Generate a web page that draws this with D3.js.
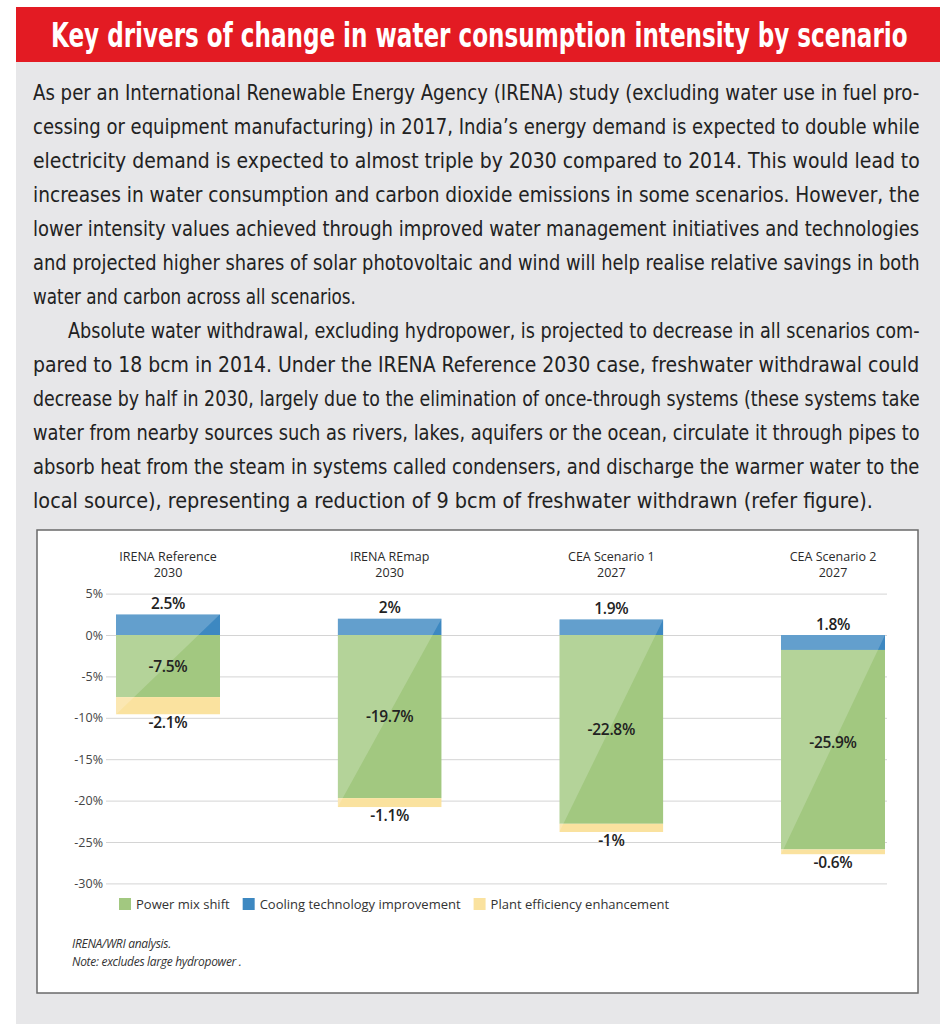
<!DOCTYPE html>
<html>
<head>
<meta charset="utf-8">
<script src="https://cdn.jsdelivr.net/npm/d3@7"></script>
<style>
  body { margin: 0; background: #fff; }
  svg { display: block; }
</style>
</head>
<body>
<svg id="page" width="949" height="1024"></svg>
<script>
// chart data
const scenarios = ["IRENA Reference", "IRENA REmap", "CEA Scenario 1", "CEA Scenario 2"];
const scenarioYears = ["2030", "2030", "2027", "2027"];
const powerMix = [-7.5, -19.7, -22.8, -25.9];
const cooling = [2.5, 2, 1.9, 1.8];
const plantEff = [-2.1, -1.1, -1, -0.6];
// in the source figure the last blue block is drawn under the axis
const coolingBelow = [false, false, false, true];
const yTicks = [5, 0, -5, -10, -15, -20, -25, -30];
const legendNames = ["Power mix shift", "Cooling technology improvement", "Plant efficiency enhancement"];
const legendColors = ["#a2c880", "#3d88c1", "#fae29f"];

const title = "Key drivers of change in water consumption intensity by scenario";
const para1 = [
  "As per an International Renewable Energy Agency (IRENA) study (excluding water use in fuel pro-",
  "cessing or equipment manufacturing) in 2017, India\u2019s energy demand is expected to double while",
  "electricity demand is expected to almost triple by 2030 compared to 2014. This would lead to",
  "increases in water consumption and carbon dioxide emissions in some scenarios. However, the",
  "lower intensity values achieved through improved water management initiatives and technologies",
  "and projected higher shares of solar photovoltaic and wind will help realise relative savings in both",
  "water and carbon across all scenarios."
];
const para2 = [
  "Absolute water withdrawal, excluding hydropower, is projected to decrease in all scenarios com-",
  "pared to 18 bcm in 2014. Under the IRENA Reference 2030 case, freshwater withdrawal could",
  "decrease by half in 2030, largely due to the elimination of once-through systems (these systems take",
  "water from nearby sources such as rivers, lakes, aquifers or the ocean, circulate it through pipes to",
  "absorb heat from the steam in systems called condensers, and discharge the warmer water to the",
  "local source), representing a reduction of 9 bcm of freshwater withdrawn (refer figure)."
];
const notes = ["IRENA/WRI analysis.", "Note: excludes large hydropower ."];

const svg = d3.select("#page");
const bodyFont = "'Liberation Sans Narrow', 'DejaVu Sans Condensed', sans-serif";
const chartFont = "'Open Sans', 'Noto Sans', sans-serif";

// squeeze a text node to a given width with a horizontal scale
function fitWidth(sel, x, y, w) {
  const n = sel.node().getComputedTextLength();
  sel.attr("transform", `translate(${x},${y}) scale(${w / n},1)`);
}

// page panel + red banner
svg.append("rect").attr("x", 16).attr("y", 62).attr("width", 924).attr("height", 962).attr("fill", "#e7e7e9");
svg.append("rect").attr("x", 16).attr("y", 7).attr("width", 924).attr("height", 55).attr("fill", "#e31b23");
const titleText = svg.append("text")
  .attr("font-family", "'DejaVu Sans Condensed', 'Liberation Sans Narrow', sans-serif")
  .attr("font-weight", "bold")
  .attr("font-size", 34)
  .attr("fill", "#fff")
  .text(title);
fitWidth(titleText, 51, 47, 857);

// body text, one justified line at a time
const lines = [];
para1.forEach((t, i) => lines.push({ t, x: 33, w: i === para1.length - 1 ? 323 : 887 }));
para2.forEach((t, i) => lines.push({ t, x: i === 0 ? 68 : 33, w: i === 0 ? 852 : (i === para2.length - 1 ? 840 : 887) }));

const bodyG = svg.append("g");
lines.forEach((d, i) => {
  const t = bodyG.append("text")
    .attr("font-family", bodyFont)
    .attr("font-size", 20.5)
    .attr("fill", "#222")
    .text(d.t);
  fitWidth(t, d.x, 100 + i * 34, d.w);
});

// chart box
svg.append("rect")
  .attr("x", 37).attr("y", 530).attr("width", 881).attr("height", 463)
  .attr("fill", "#fff").attr("stroke", "#6a6a6a").attr("stroke-width", 1.5);

const y = d3.scaleLinear().domain([-30, 5]).range([883.4, 593.6]);
const x = d3.scalePoint().domain(scenarios).range([168, 833]);
const barW = 104;

// gridlines + tick labels
const yAxis = svg.append("g")
  .attr("transform", "translate(106,0)")
  .call(d3.axisLeft(y).tickValues(yTicks).tickSize(-781).tickFormat(d => d + "%").tickPadding(3));
yAxis.select(".domain").remove();
yAxis.selectAll(".tick line").attr("stroke", "#d4d4d4");
yAxis.selectAll(".tick text")
  .attr("font-family", chartFont)
  .attr("font-size", 12.5)
  .attr("fill", "#444");

// category headers
const headG = svg.append("g")
  .attr("text-anchor", "middle")
  .attr("font-family", chartFont)
  .attr("font-size", 12.5)
  .attr("fill", "#2a2a2a");
headG.selectAll(".h1")
  .data(scenarios)
  .enter()
  .append("text")
  .attr("class", "h1")
  .attr("x", d => x(d))
  .attr("y", 561)
  .text(d => d);
headG.selectAll(".h2")
  .data(scenarioYears)
  .enter()
  .append("text")
  .attr("class", "h2")
  .attr("x", (_, i) => x(scenarios[i]))
  .attr("y", 576.5)
  .text(d => d);

// bars
const bars = scenarios.map((s, i) => {
  const blueEnd = coolingBelow[i] ? -cooling[i] : cooling[i];
  const bottom = powerMix[i] + plantEff[i];
  return {
    s, i,
    segs: [
      { a: 0, b: powerMix[i], c: legendColors[0] },
      { a: powerMix[i], b: bottom, c: legendColors[2] },
      { a: 0, b: blueEnd, c: legendColors[1] }
    ],
    top: Math.max(0, blueEnd),
    bottom
  };
});

const defs = svg.append("defs");
bars.forEach(bar => {
  const x0 = x(bar.s) - barW / 2, x1 = x(bar.s) + barW / 2;
  const yt = y(bar.top), yb = y(bar.bottom);
  defs.append("clipPath").attr("id", "clip" + bar.i)
    .append("rect").attr("x", x0).attr("y", yt).attr("width", barW).attr("height", yb - yt);

  const g = svg.append("g").attr("clip-path", `url(#clip${bar.i})`);
  g.selectAll("rect")
    .data(bar.segs)
    .enter()
    .append("rect")
    .attr("x", x0)
    .attr("width", barW)
    .attr("y", d => y(Math.max(d.a, d.b)))
    .attr("height", d => Math.abs(y(d.a) - y(d.b)))
    .attr("fill", d => d.c);

  // lighter upper-left half, split on the diagonal
  g.append("polygon")
    .attr("points", `${x0},${yt} ${x1},${yt} ${x0},${yb}`)
    .attr("fill", "#fff")
    .attr("opacity", 0.2);
});

// value labels
const labels = [];
bars.forEach(bar => {
  const cx = x(bar.s);
  labels.push({ x: cx, y: y(bar.top) - 5, t: cooling[bar.i] + "%" });
  labels.push({ x: cx, y: y(powerMix[bar.i] / 2) + 5.5, t: powerMix[bar.i] + "%" });
  labels.push({ x: cx, y: y(bar.bottom) + 14, t: plantEff[bar.i] + "%" });
});
svg.append("g").selectAll("text")
  .data(labels)
  .enter()
  .append("text")
  .attr("x", d => d.x)
  .attr("y", d => d.y)
  .attr("text-anchor", "middle")
  .attr("font-family", chartFont)
  .attr("font-weight", 600)
  .attr("font-size", 15.5)
  .attr("fill", "#222")
  .attr("letter-spacing", -0.3)
  .text(d => d.t);

// legend
const legend = svg.append("g").attr("transform", "translate(119,898)");
let lx = 0;
legendNames.forEach((name, i) => {
  legend.append("rect").attr("x", lx).attr("y", 0).attr("width", 12).attr("height", 12).attr("fill", legendColors[i]);
  const t = legend.append("text")
    .attr("x", lx + 17).attr("y", 10.5)
    .attr("font-family", chartFont)
    .attr("font-size", 13)
    .attr("fill", "#333")
    .text(name);
  lx += 17 + t.node().getComputedTextLength() + 13;
});

// source notes
svg.append("g").selectAll("text")
  .data(notes)
  .enter()
  .append("text")
  .attr("x", 72)
  .attr("y", (_, i) => 948 + i * 17.5)
  .attr("font-family", chartFont)
  .attr("font-style", "italic")
  .attr("font-size", 12)
  .attr("fill", "#333")
  .attr("letter-spacing", -0.3)
  .text(d => d);
</script>
</body>
</html>
